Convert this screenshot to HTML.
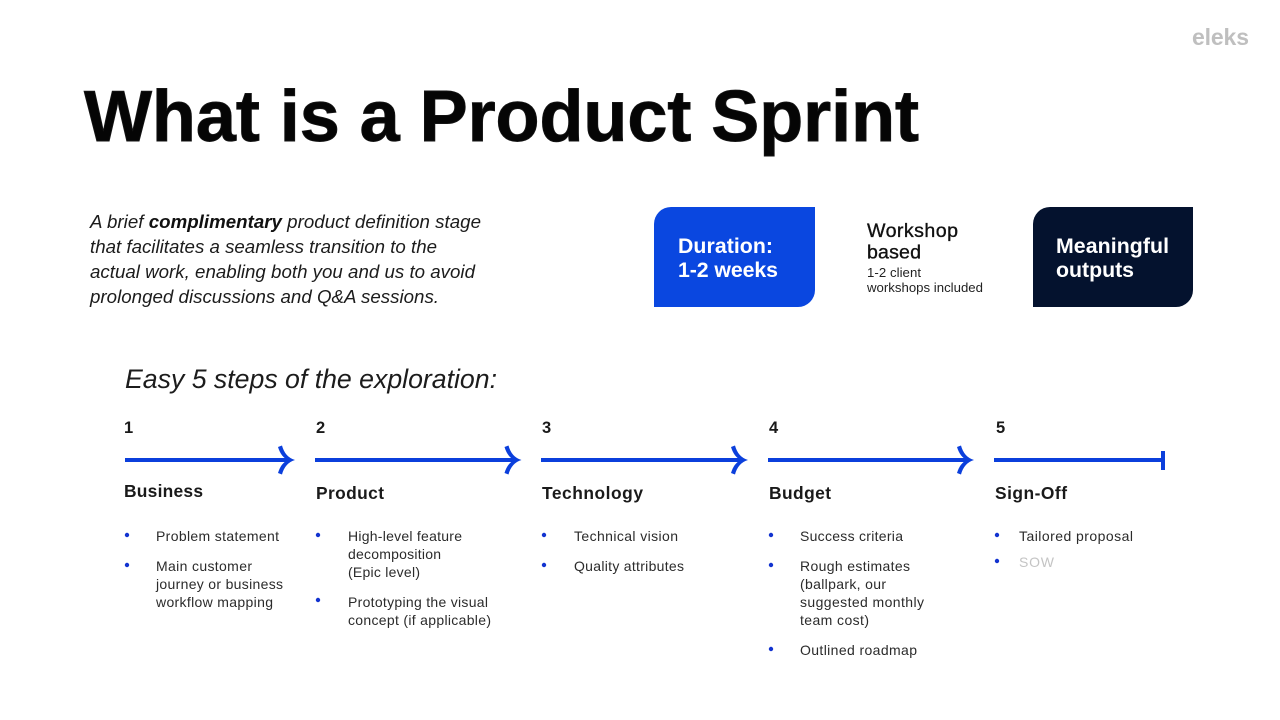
<!DOCTYPE html>
<html><head><meta charset="utf-8"><style>
html,body{margin:0;padding:0;background:#fff;width:1280px;height:720px;overflow:hidden}
svg{display:block}
text{font-family:"Liberation Sans",sans-serif;fill:#111}
.b{font-size:14px;fill:#2b2b2b}
.h{font-size:17.4px;font-weight:bold;fill:#1a1a1a}
.n{font-size:16.5px;font-weight:bold;fill:#1a1a1a}
.p{font-size:18.7px;font-style:italic;fill:#1c1c1c}
.w{font-size:21.3px;font-weight:bold;fill:#fff}
.l{fill:none;stroke:#0b3fdc;stroke-width:4}
.a{fill:#0b3fdc}
circle{fill:#1233d0}
</style></head><body>
<svg width="1280" height="720" viewBox="0 0 1280 720" xmlns="http://www.w3.org/2000/svg">
<text x="1192" y="45" textLength="57" style="font-size:23px;font-weight:bold;fill:#bfbfbf">eleks</text>
<text x="84" y="141" textLength="835" style="font-size:72px;font-weight:bold;fill:#050505;stroke:#151515;stroke-width:.9">What is a Product Sprint</text>

<text class="p" x="90" y="228" textLength="391">A brief <tspan style="font-weight:bold;fill:#111">complimentary</tspan> product definition stage</text>
<text class="p" x="90" y="253" textLength="347">that facilitates a seamless transition to the</text>
<text class="p" x="90" y="278" textLength="385">actual work, enabling both you and us to avoid</text>
<text class="p" x="90" y="303" textLength="349">prolonged discussions and Q&amp;A sessions.</text>

<path d="M671 207H815V290A17 17 0 0 1 798 307H654V224A17 17 0 0 1 671 207Z" fill="#0a47e0"/>
<path d="M1050 207H1193V290A17 17 0 0 1 1176 307H1033V224A17 17 0 0 1 1050 207Z" fill="#04122e"/>
<text class="w" x="678" y="253" textLength="95">Duration:</text>
<text class="w" x="678" y="277" textLength="100">1-2 weeks</text>
<text class="w" x="1056" y="253" textLength="113">Meaningful</text>
<text class="w" x="1056" y="277" textLength="78">outputs</text>
<text x="867" y="237" textLength="91" style="font-size:19.6px;stroke:#111;stroke-width:.35">Workshop</text>
<text x="867" y="258.5" textLength="54" style="font-size:19.6px;stroke:#111;stroke-width:.35">based</text>
<text x="867" y="277" textLength="54" style="font-size:13.2px;fill:#222">1-2 client</text>
<text x="867" y="292" textLength="116" style="font-size:13.2px;fill:#222">workshops included</text>

<text x="125" y="388" textLength="372" style="font-size:26.7px;font-style:italic;fill:#1c1c1c">Easy 5 steps of the exploration:</text>

<text class="n" x="124" y="433">1</text>
<text class="n" x="316" y="433">2</text>
<text class="n" x="542" y="433">3</text>
<text class="n" x="769" y="433">4</text>
<text class="n" x="996" y="433">5</text>

<path class="l" d="M125 460H290"/>
<path class="a" transform="translate(295 0)" d="M-17 447L-13 445.5Q-10 457 0 460Q-10 463 -13 474.5L-17 473Q-14 463 -7 460Q-14 457 -17 447Z"/>
<path class="l" d="M315 460H516"/>
<path class="a" transform="translate(521.5 0)" d="M-17 447L-13 445.5Q-10 457 0 460Q-10 463 -13 474.5L-17 473Q-14 463 -7 460Q-14 457 -17 447Z"/>
<path class="l" d="M541 460H743"/>
<path class="a" transform="translate(748 0)" d="M-17 447L-13 445.5Q-10 457 0 460Q-10 463 -13 474.5L-17 473Q-14 463 -7 460Q-14 457 -17 447Z"/>
<path class="l" d="M768 460H969"/>
<path class="a" transform="translate(974 0)" d="M-17 447L-13 445.5Q-10 457 0 460Q-10 463 -13 474.5L-17 473Q-14 463 -7 460Q-14 457 -17 447Z"/>
<path class="l" d="M994 460H1163"/>
<rect x="1161" y="451" width="4" height="19" fill="#0b3fdc"/>

<text class="h" x="124" y="497" textLength="79">Business</text>
<text class="h" x="316" y="499" textLength="68">Product</text>
<text class="h" x="542" y="499" textLength="101">Technology</text>
<text class="h" x="769" y="499" textLength="62">Budget</text>
<text class="h" x="995" y="499" textLength="72">Sign-Off</text>

<circle cx="127" cy="535" r="2.2"/><circle cx="127" cy="565" r="2.2"/>
<text class="b" x="156" y="541" textLength="123">Problem statement</text>
<text class="b" x="156" y="571" textLength="96">Main customer</text>
<text class="b" x="156" y="589" textLength="127">journey or business</text>
<text class="b" x="156" y="607" textLength="117">workflow mapping</text>

<circle cx="318" cy="535" r="2.2"/><circle cx="318" cy="600" r="2.2"/>
<text class="b" x="348" y="541" textLength="114">High-level feature</text>
<text class="b" x="348" y="559" textLength="93">decomposition</text>
<text class="b" x="348" y="577" textLength="72">(Epic level)</text>
<text class="b" x="348" y="607" textLength="140">Prototyping the visual</text>
<text class="b" x="348" y="625" textLength="143">concept (if applicable)</text>

<circle cx="544" cy="535" r="2.2"/><circle cx="544" cy="565" r="2.2"/>
<text class="b" x="574" y="541" textLength="104">Technical vision</text>
<text class="b" x="574" y="571" textLength="110">Quality attributes</text>

<circle cx="771" cy="535" r="2.2"/><circle cx="771" cy="565" r="2.2"/><circle cx="771" cy="649" r="2.2"/>
<text class="b" x="800" y="541" textLength="103">Success criteria</text>
<text class="b" x="800" y="571" textLength="110">Rough estimates</text>
<text class="b" x="800" y="589" textLength="86">(ballpark, our</text>
<text class="b" x="800" y="607" textLength="124">suggested monthly</text>
<text class="b" x="800" y="625" textLength="69">team cost)</text>
<text class="b" x="800" y="655" textLength="117">Outlined roadmap</text>

<circle cx="997" cy="535" r="2.2"/><circle cx="997" cy="561" r="2.2"/>
<text class="b" x="1019" y="541" textLength="114">Tailored proposal</text>
<text class="b" x="1019" y="567" textLength="35" style="fill:#c4c4c4">SOW</text>
</svg>
</body></html>
